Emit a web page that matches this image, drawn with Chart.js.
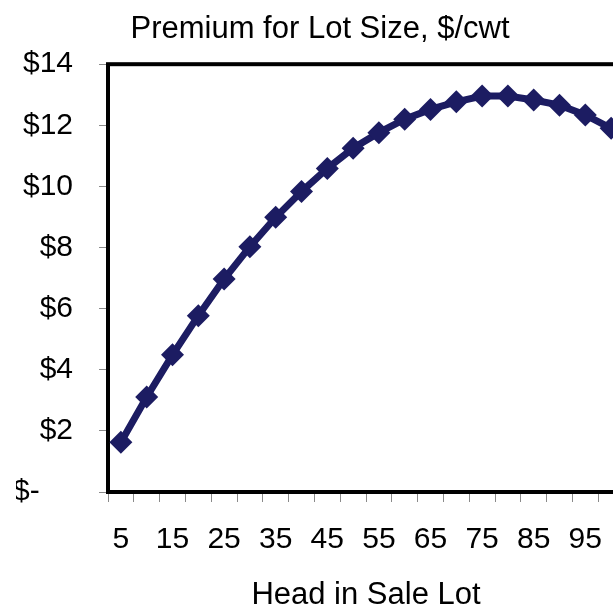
<!DOCTYPE html>
<html>
<head>
<meta charset="utf-8">
<script src="https://cdn.jsdelivr.net/npm/chart.js@4.4.0/dist/chart.umd.min.js"></script>
<style>
  html, body { margin: 0; padding: 0; background: #ffffff; overflow: hidden; }
  #wrap { width: 640px; height: 608px; }
</style>
</head>
<body>
<div id="wrap"><canvas id="c" width="640" height="608"></canvas></div>
<script>
const headCounts = [5, 10, 15, 20, 25, 30, 35, 40, 45, 50, 55, 60, 65, 70, 75, 80, 85, 90, 95, 100];
const premium = [1.63, 3.11, 4.49, 5.77, 6.97, 8.03, 8.99, 9.83, 10.59, 11.25, 11.76, 12.20, 12.52, 12.77, 12.96, 12.96, 12.83, 12.66, 12.34, 11.90];
const yTicks = [0, 2, 4, 6, 8, 10, 12, 14];

const FONT = 'Liberation Sans, Arial, sans-serif';

const framePlugin = {
  id: 'frame',
  beforeDatasetsDraw(chart) {
    const a = chart.chartArea;
    const ctx = chart.ctx;
    ctx.save();
    ctx.strokeStyle = '#000000';
    ctx.lineWidth = 4;
    ctx.strokeRect(a.left, a.top, a.right - a.left, a.bottom - a.top);
    ctx.restore();
  }
};

new Chart(document.getElementById('c'), {
  type: 'line',
  data: {
    labels: headCounts.map(String),
    datasets: [{
      data: premium,
      borderColor: '#1c1c62',
      backgroundColor: '#1c1c62',
      borderWidth: 7,
      pointStyle: 'rectRot',
      pointRadius: 11.5,
      pointHoverRadius: 11.5,
      pointBorderWidth: 0,
      tension: 0,
      fill: false
    }]
  },
  options: {
    responsive: false,
    animation: false,
    events: [],
    layout: { padding: { left: 16, right: 16, top: 0, bottom: 0 } },
    plugins: {
      legend: { display: false },
      tooltip: { enabled: false },
      title: {
        display: true,
        text: 'Premium for Lot Size, $/cwt',
        color: '#000000',
        font: { family: FONT, size: 31, weight: 'normal', lineHeight: 1.2 },
        padding: { top: 11, bottom: 16 }
      }
    },
    scales: {
      x: {
        type: 'category',
        offset: true,
        afterFit: function(axis) { axis.height = 116; },
        grid: {
          offset: true,
          drawOnChartArea: false,
          drawTicks: true,
          tickLength: 10,
          tickColor: '#8a8a8a',
          tickWidth: 1
        },
        border: { display: false },
        ticks: {
          autoSkip: false,
          maxRotation: 0,
          minRotation: 0,
          padding: 20,
          color: '#000000',
          font: { family: FONT, size: 30 },
          callback: function(value, index) { return index % 2 === 0 ? headCounts[index] : ''; }
        },
        title: {
          display: true,
          text: 'Head in Sale Lot',
          color: '#000000',
          font: { family: FONT, size: 31, lineHeight: 1.0 },
          padding: { top: 4, bottom: -3 }
        }
      },
      y: {
        min: 0,
        max: 14,
        afterBuildTicks: function(axis) { axis.ticks = yTicks.map(v => ({ value: v })); },
        afterFit: function(axis) { axis.width = 92; },
        grid: {
          drawOnChartArea: false,
          drawTicks: true,
          tickLength: 9,
          tickColor: '#8a8a8a',
          tickWidth: 1
        },
        border: { display: false },
        ticks: {
          padding: 26,
          color: '#000000',
          font: { family: FONT, size: 30 },
          callback: function(value) { return value === 0 ? '$-    ' : '$' + value; }
        }
      }
    }
  },
  plugins: [framePlugin]
});
</script>
</body>
</html>
